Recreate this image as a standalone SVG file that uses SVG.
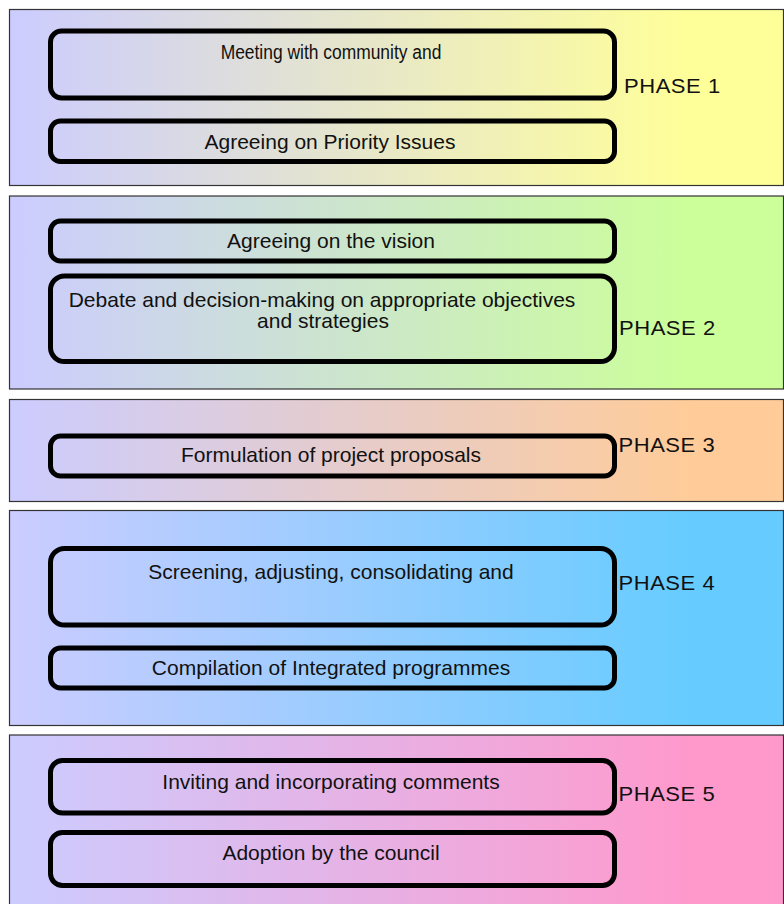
<svg xmlns="http://www.w3.org/2000/svg" width="784" height="904" viewBox="0 0 784 904">
<defs>
  <linearGradient id="g1" x1="0" y1="0" x2="1" y2="0"><stop offset="0" stop-color="#CCCCFF"/><stop offset="0.88" stop-color="#FFFF99"/></linearGradient>
  <linearGradient id="g2" x1="0" y1="0" x2="1" y2="0"><stop offset="0" stop-color="#CCCCFF"/><stop offset="0.88" stop-color="#CCFF99"/></linearGradient>
  <linearGradient id="g3" x1="0" y1="0" x2="1" y2="0"><stop offset="0" stop-color="#CCCCFF"/><stop offset="0.88" stop-color="#FFCC99"/></linearGradient>
  <linearGradient id="g4" x1="0" y1="0" x2="1" y2="0"><stop offset="0" stop-color="#CCCCFF"/><stop offset="0.88" stop-color="#66CCFF"/></linearGradient>
  <linearGradient id="g5" x1="0" y1="0" x2="1" y2="0"><stop offset="0" stop-color="#CCCCFF"/><stop offset="0.88" stop-color="#FF99CC"/></linearGradient>
</defs>
<style>
  .band { stroke: #333333; stroke-width: 1.2; }
  .box { fill: none; stroke: #000000; stroke-width: 5; }
  .t { font-family: "Liberation Sans", Arial, sans-serif; font-size: 21px; fill: #111111; text-anchor: middle; }
  .ph { font-family: "Liberation Sans", Arial, sans-serif; font-size: 20px; fill: #111111; letter-spacing: 0.5px; }
</style>
<rect width="784" height="904" fill="#FFFFFF"/>
<g id="phase1">
  <rect class="band" x="9.5" y="9.5" width="774" height="176" fill="url(#g1)"/>
  <text class="ph" transform="translate(624,93) scale(1.1,1)">PHASE 1</text>
</g>
<g id="phase2">
  <rect class="band" x="9.5" y="196" width="774" height="193" fill="url(#g2)"/>
  <text class="ph" transform="translate(619,335) scale(1.1,1)">PHASE 2</text>
</g>
<g id="phase3">
  <rect class="band" x="9.5" y="399.5" width="774" height="102" fill="url(#g3)"/>
  <text class="ph" transform="translate(618.5,452) scale(1.1,1)">PHASE 3</text>
</g>
<g id="phase4">
  <rect class="band" x="9.5" y="510.5" width="774" height="215" fill="url(#g4)"/>
  <text class="ph" transform="translate(618.5,590) scale(1.1,1)">PHASE 4</text>
</g>
<g id="phase5">
  <rect class="band" x="9.5" y="735" width="774" height="200" fill="url(#g5)"/>
  <text class="ph" transform="translate(618.5,801) scale(1.1,1)">PHASE 5</text>
</g>
<g id="n-meeting">
  <rect class="box" x="50.5" y="31" width="564" height="67" rx="11"/>
  <text class="t" transform="translate(331,58.5) scale(0.83,1)" x="0" y="0">Meeting with community and</text>
</g>
<g id="n-priority">
  <rect class="box" x="50.5" y="121" width="564" height="40.5" rx="10"/>
  <text class="t" x="330" y="148.5">Agreeing on Priority Issues</text>
</g>
<g id="n-vision">
  <rect class="box" x="50.5" y="221" width="564" height="40" rx="10"/>
  <text class="t" x="331" y="248">Agreeing on the vision</text>
</g>
<g id="n-debate">
  <rect class="box" x="50.5" y="276" width="564" height="85.5" rx="14"/>
  <text class="t" x="322" y="306.5">Debate and decision-making on appropriate objectives</text>
  <text class="t" x="323" y="328">and strategies</text>
</g>
<g id="n-formulation">
  <rect class="box" x="50.5" y="436" width="564" height="40" rx="10"/>
  <text class="t" x="331" y="462">Formulation of project proposals</text>
</g>
<g id="n-screening">
  <rect class="box" x="50.5" y="548.5" width="564" height="76.5" rx="14"/>
  <text class="t" x="331" y="578.5">Screening, adjusting, consolidating and</text>
</g>
<g id="n-compilation">
  <rect class="box" x="50.5" y="648" width="564" height="40" rx="10"/>
  <text class="t" x="331" y="675">Compilation of Integrated programmes</text>
</g>
<g id="n-inviting">
  <rect class="box" x="50.5" y="760.5" width="564" height="52.5" rx="12"/>
  <text class="t" x="331" y="788.5">Inviting and incorporating comments</text>
</g>
<g id="n-adoption">
  <rect class="box" x="50.5" y="832.5" width="564" height="53" rx="12"/>
  <text class="t" x="331" y="859.5">Adoption by the council</text>
</g>
<g id="connectors"></g>
</svg>
